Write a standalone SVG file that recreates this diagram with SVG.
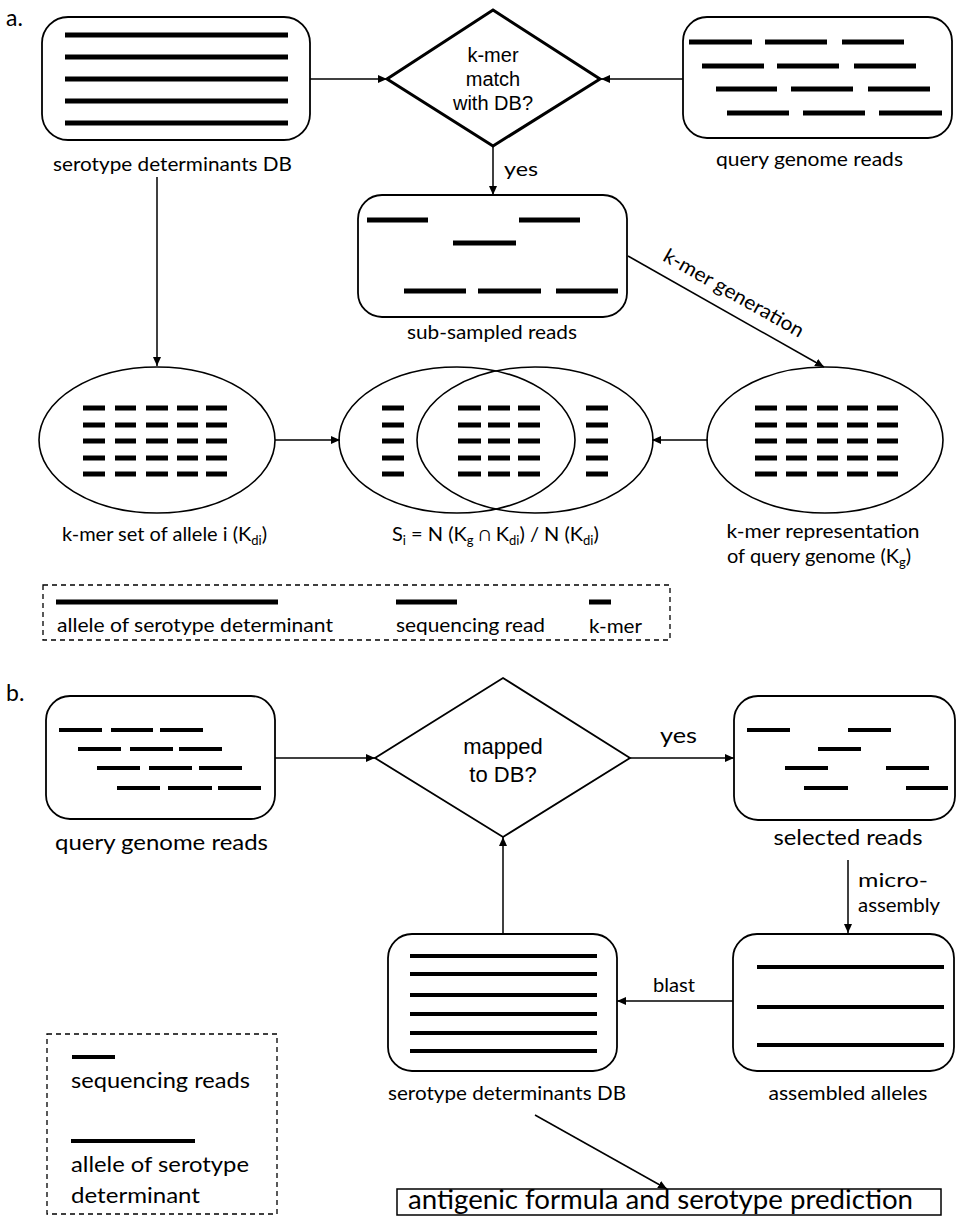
<svg xmlns="http://www.w3.org/2000/svg" width="956" height="1216" viewBox="0 0 956 1216">
<defs>
<style>
.box{fill:#fff;stroke:#000;stroke-width:1.8}
.ell{fill:none;stroke:#000;stroke-width:1.6}
.bar{stroke:#000;stroke-width:5;fill:none}
.barb{stroke:#000;stroke-width:4;fill:none}
.conn line{stroke:#000;stroke-width:1.5;fill:none;marker-end:url(#ah)}
.lbl{font-family:Lato,"Open Sans",sans-serif;font-size:20px;fill:#000}
.lblb{font-family:Lato,"Open Sans",sans-serif;font-size:22px;fill:#000}
.dia{font-family:"Liberation Sans",Arial,sans-serif;font-size:20px;fill:#000;text-anchor:middle}
.mid{text-anchor:middle}
.sub{font-size:13px}
.dash{fill:none;stroke:#000;stroke-width:1.3;stroke-dasharray:5,4}
</style>
<marker id="ah" viewBox="0 0 9 8" refX="9" refY="4" markerWidth="9" markerHeight="8" markerUnits="userSpaceOnUse" orient="auto">
<path d="M0,0 L9,4 L0,8 z" fill="#000"/>
</marker>
</defs>
<rect width="956" height="1216" fill="#fff"/>

<text class="lbl" x="6" y="26" style="font-size:23px">a.</text>
<text class="lbl" x="6" y="701" style="font-size:23px">b.</text>

<g class="conn" id="connectors">
<line x1="310" y1="79" x2="387" y2="79"/>
<line x1="683" y1="79" x2="601" y2="79"/>
<line x1="493" y1="146" x2="493" y2="195"/>
<line x1="628" y1="256" x2="824" y2="367"/>
<line x1="157" y1="177" x2="157" y2="366"/>
<line x1="275" y1="440" x2="340" y2="440"/>
<line x1="708" y1="440" x2="652" y2="440"/>
<line x1="275" y1="758" x2="375" y2="758"/>
<line x1="630" y1="758" x2="734" y2="758"/>
<line x1="848" y1="860" x2="848" y2="933"/>
<line x1="733" y1="1001" x2="617" y2="1001"/>
<line x1="503" y1="933" x2="503" y2="837"/>
<line x1="535" y1="1115" x2="667" y2="1189"/>
</g>
<text class="lbl" x="521" y="176" textLength="34" lengthAdjust="spacingAndGlyphs" text-anchor="middle">yes</text>
<text class="lbl mid" x="730.5" y="299" transform="rotate(29.6 730.5 299)" textLength="158" lengthAdjust="spacingAndGlyphs">k-mer generation</text>
<text class="lblb mid" x="678.5" y="743" textLength="37" lengthAdjust="spacingAndGlyphs">yes</text>
<text class="lbl" x="858" y="887" textLength="70" lengthAdjust="spacingAndGlyphs">micro-</text>
<text class="lbl" x="858" y="912" textLength="82" lengthAdjust="spacingAndGlyphs">assembly</text>
<text class="lbl mid" x="674" y="992" textLength="42" lengthAdjust="spacingAndGlyphs">blast</text>

<g id="db-a">
<rect class="box" x="42" y="17" width="268" height="123" rx="26"/>
<path class="bar" d="M65,35H288M65,57H288M65,79H288M65,101H288M65,123H288"/>
<text class="lbl mid" x="172.5" y="171" textLength="239" lengthAdjust="spacingAndGlyphs">serotype determinants DB</text>
</g>

<g id="diamond-a">
<polygon points="493,10 600,79 493,146 387,79" fill="#fff" stroke="#000" stroke-width="3" stroke-linejoin="miter"/>
<text class="dia" x="493" y="62">k-mer</text>
<text class="dia" x="493" y="86">match</text>
<text class="dia" x="493" y="110">with DB?</text>
</g>

<g id="query-a">
<rect class="box" x="683" y="17" width="269" height="121" rx="24"/>
<path class="bar" d="M689,42H752M765,42H827M842,42H904M702,66H764M777,66H839M854,66H916M716,89H777M791,89H853M868,89H930M727,113H789M803,113H865M879,113H942"/>
<text class="lbl mid" x="809.5" y="166" textLength="187" lengthAdjust="spacingAndGlyphs">query genome reads</text>
</g>

<g id="subsampled">
<rect class="box" x="358" y="195" width="269" height="122" rx="24"/>
<path class="bar" d="M367,220H428M519,220H580M453,243H516M404,291H466M478,291H541M556,291H618"/>
<text class="lbl mid" x="492" y="339" textLength="170" lengthAdjust="spacingAndGlyphs">sub-sampled reads</text>
</g>

<g id="kmer-set">
<ellipse class="ell" cx="157" cy="440" rx="118" ry="73"/>
<path class="bar" d="M83,408H105M115,408H136M146,408H168M177,408H198M206,408H227M83,425H105M115,425H136M146,425H168M177,425H198M206,425H227M83,441H105M115,441H136M146,441H168M177,441H198M206,441H227M83,458H105M115,458H136M146,458H168M177,458H198M206,458H227M83,474H105M115,474H136M146,474H168M177,474H198M206,474H227"/>
<text class="lbl" x="62" y="541">k-mer set of allele i (K<tspan class="sub" dy="4">di</tspan><tspan dy="-4">)</tspan></text>
</g>

<g id="venn">
<ellipse class="ell" cx="457" cy="440" rx="118" ry="73"/>
<ellipse class="ell" cx="535" cy="440" rx="118" ry="73"/>
<path class="bar" d="M382,408H404M382,425H404M382,441H404M382,458H404M382,474H404M586,408H608M586,425H608M586,441H608M586,458H608M586,474H608M458,408H481M488,408H510M518,408H540M458,425H481M488,425H510M518,425H540M458,441H481M488,441H510M518,441H540M458,458H481M488,458H510M518,458H540M458,474H481M488,474H510M518,474H540"/>
<text class="lbl" x="392" y="541">S<tspan class="sub" dy="4">i</tspan><tspan dy="-4"> = N (K</tspan><tspan class="sub" dy="4">g</tspan><tspan dy="-4"> ∩ K</tspan><tspan class="sub" dy="4">di</tspan><tspan dy="-4">) / N (K</tspan><tspan class="sub" dy="4">di</tspan><tspan dy="-4">)</tspan></text>
</g>

<g id="kmer-rep">
<ellipse class="ell" cx="825" cy="440" rx="118" ry="73"/>
<path class="bar" d="M755,408H777M786,408H807M817,408H838M847,408H868M877,408H898M755,425H777M786,425H807M817,425H838M847,425H868M877,425H898M755,441H777M786,441H807M817,441H838M847,441H868M877,441H898M755,458H777M786,458H807M817,458H838M847,458H868M877,458H898M755,474H777M786,474H807M817,474H838M847,474H868M877,474H898"/>
<text class="lbl mid" x="823" y="538" textLength="193" lengthAdjust="spacingAndGlyphs">k-mer representation</text>
<text class="lbl" x="727" y="563">of query genome (K<tspan class="sub" dy="4">g</tspan><tspan dy="-4">)</tspan></text>
</g>

<g id="legend-a">
<rect class="dash" x="43" y="585" width="627" height="55"/>
<path class="bar" d="M56,602H278M396,602H457M589,602H611"/>
<text class="lbl" x="57" y="632" textLength="276" lengthAdjust="spacingAndGlyphs">allele of serotype determinant</text>
<text class="lbl" x="396" y="632" textLength="149" lengthAdjust="spacingAndGlyphs">sequencing read</text>
<text class="lbl" x="589" y="633" textLength="53" lengthAdjust="spacingAndGlyphs">k-mer</text>
</g>

<g id="query-b">
<rect class="box" x="46" y="696" width="229" height="123" rx="24"/>
<path class="barb" d="M59,730H102M111,730H153M160,730H203M78,749H121M130,749H173M179,749H222M97,768H140M149,768H192M199,768H242M117,788H160M168,788H212M218,788H261"/>
<text class="lblb mid" x="161.5" y="850" textLength="213" lengthAdjust="spacingAndGlyphs">query genome reads</text>
</g>

<g id="diamond-b">
<polygon points="503,678 630,758 503,837 375,758" fill="#fff" stroke="#000" stroke-width="1.8"/>
<text class="dia" x="503" y="754" style="font-size:22px">mapped</text>
<text class="dia" x="503" y="782" style="font-size:22px">to DB?</text>
</g>

<g id="selected">
<rect class="box" x="734" y="696" width="221" height="124" rx="24"/>
<path class="barb" d="M747,730H790M848,730H891M818,749H861M785,768H828M886,768H929M804,788H848M906,788H948"/>
<text class="lblb mid" x="848" y="845" textLength="149" lengthAdjust="spacingAndGlyphs">selected reads</text>
</g>

<g id="assembled">
<rect class="box" x="733" y="934" width="221" height="137" rx="24"/>
<path class="barb" d="M757,967H944M757,1007H944M757,1045H944"/>
<text class="lbl mid" x="848" y="1100" textLength="159" lengthAdjust="spacingAndGlyphs">assembled alleles</text>
</g>

<g id="db-b">
<rect class="box" x="388" y="934" width="229" height="137" rx="24"/>
<path class="barb" d="M410,956H597M410,974H597M410,995H597M410,1014H597M410,1033H597M410,1051H597"/>
<text class="lbl mid" x="507" y="1100" textLength="238" lengthAdjust="spacingAndGlyphs">serotype determinants DB</text>
</g>

<g id="legend-b">
<rect class="dash" x="47" y="1034" width="230" height="180"/>
<path class="barb" d="M72,1057H115M71,1141H195"/>
<text class="lblb" x="71" y="1088" textLength="179" lengthAdjust="spacingAndGlyphs">sequencing reads</text>
<text class="lblb" x="71" y="1172" textLength="178" lengthAdjust="spacingAndGlyphs">allele of serotype</text>
<text class="lblb" x="71" y="1203" textLength="129" lengthAdjust="spacingAndGlyphs">determinant</text>
</g>

<g id="prediction">
<rect x="397" y="1189" width="544" height="26" fill="#fff" stroke="#000" stroke-width="1.5"/>
<text class="lbl" x="408" y="1209" style="font-size:26px" textLength="505" lengthAdjust="spacingAndGlyphs">antigenic formula and serotype prediction</text>
</g>
</svg>
